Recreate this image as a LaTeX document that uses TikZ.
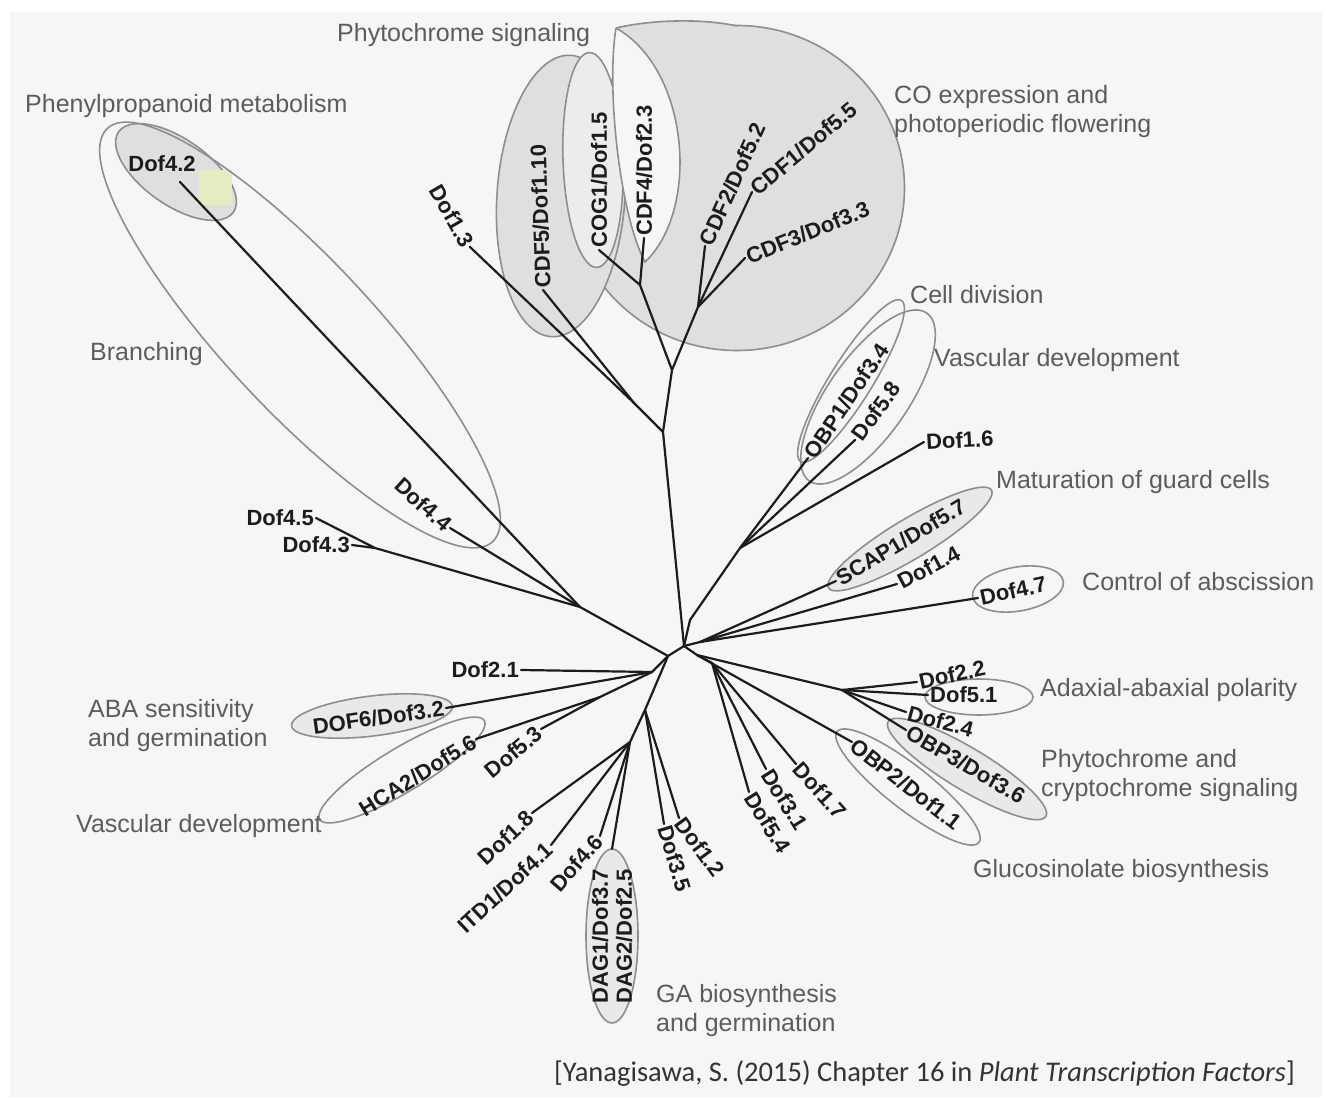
\documentclass[tikz,border=0pt]{standalone}
\usepackage{fontspec}
\setmainfont{Liberation Sans}
\newfontfamily\citefont{Carlito}
\usetikzlibrary{shapes.geometric}
\definecolor{bggray}{HTML}{F6F6F6}
\definecolor{ringgray}{HTML}{8E8E8E}
\definecolor{cladefill}{HTML}{DFDFDF}
\definecolor{labgray}{HTML}{5C5C5C}
\definecolor{treeblack}{HTML}{1C1C1C}
\definecolor{patchyellow}{HTML}{E6EBC2}
\tikzset{
  gene/.style={font=\fontsize{22}{24}\selectfont\bfseries, text=treeblack, inner sep=2pt},
  func/.style={font=\fontsize{25}{29}\selectfont, text=labgray, align=left, inner sep=0pt},
  source/.style={font=\citefont\fontsize{28.5}{31}\selectfont, text=black!80, inner sep=0pt},
  br/.style={draw=treeblack, line width=2.2pt, line cap=round, line join=round},
  ring/.style={ellipse, draw=ringgray, line width=1.6pt, inner sep=0pt},
  ringline/.style={draw=ringgray, line width=1.6pt},
}
\begin{document}
\begin{tikzpicture}[x=1pt, y=-1pt]
\useasboundingbox (0,0) rectangle (1327,1099);
\fill[white] (0,0) rectangle (1327,1099);
\fill[bggray] (10,12) rectangle (1322,1097);

% functional groups
\node[ring, fill=cladefill, minimum width=335, minimum height=325] (rco) at (737,188) {};
\fill[cladefill] (616,28) .. controls (650,20) and (700,18) .. (737,26) -- (690,120) -- cycle;
\draw[ringline] (616,28) .. controls (650,20) and (700,18) .. (737,26);
\node[ring, fill=cladefill, minimum width=128, minimum height=282, rotate=-4] (rphy) at (561,196) {};
\node[ring, fill=cladefill!60, minimum width=60, minimum height=215, rotate=2] (rcog) at (593,160) {};
\draw[ringline, fill=bggray] (616,28) .. controls (690,70) and (700,210) .. (645,262) .. controls (620,215) and (606,90) .. (616,28);
\node[ring, fill=cladefill, minimum width=140, minimum height=66, rotate=-35] (rphen) at (176,172) {};
\fill[patchyellow] (199,170) rectangle (232,205);
\node[ring, minimum width=565, minimum height=150, rotate=-47] (rbranch) at (300,335) {};
\node[ring, minimum width=190, minimum height=42, rotate=58] (rcell) at (851,381) {};
\node[ring, minimum width=205, minimum height=80, rotate=55] (rvasc) at (868,397) {};
\node[ring, fill=cladefill!70, minimum width=190, minimum height=40, rotate=31] (rguard) at (910,539) {};
\node[ring, minimum width=92, minimum height=44, rotate=10] (rabsc) at (1018,589) {};
\node[ring, minimum width=108, minimum height=36] (rpolar) at (979,697) {};
\node[ring, fill=cladefill!70, minimum width=184, minimum height=42, rotate=-31] (rphycry) at (967,769) {};
\node[ring, minimum width=180, minimum height=44, rotate=-38] (rgluc) at (908,787) {};
\node[ring, fill=cladefill!70, minimum width=162, minimum height=40, rotate=7] (raba) at (372,716) {};
\node[ring, minimum width=192, minimum height=44, rotate=31] (rvascl) at (402,770) {};
\node[ring, fill=cladefill!70, minimum width=52, minimum height=174] (rga) at (612,936) {};

% inner branch points
\coordinate (r0) at (684,646);
\coordinate (r1) at (668,656);
\coordinate (a) at (663,432);
\coordinate (b) at (672,370);
\coordinate (d) at (634,403);
\coordinate (e) at (640,285);
\coordinate (f) at (698,307);
\coordinate (i) at (690,620);
\coordinate (i2) at (740,548);
\coordinate (j) at (700,642);
\coordinate (k) at (697,655);
\coordinate (k2) at (842,690);
\coordinate (l) at (712,663);
\coordinate (h) at (580,607);
\coordinate (g) at (375,548);
\coordinate (m) at (652,672);
\coordinate (m2) at (600,697);
\coordinate (n) at (645,710);
\coordinate (n2) at (630,742);

% leaf tips
\coordinate (t42) at (180,182);
\coordinate (t44) at (450,528);
\coordinate (t45) at (316,518);
\coordinate (t43) at (352,545);
\coordinate (t13) at (470,247);
\coordinate (tcdf5) at (543,290);
\coordinate (tcog1) at (599,250);
\coordinate (tcdf4) at (644,238);
\coordinate (tcdf2) at (705,246);
\coordinate (tcdf1) at (752,192);
\coordinate (tcdf3) at (745,258);
\coordinate (tobp1) at (808,458);
\coordinate (t58) at (855,440);
\coordinate (t16) at (924,442);
\coordinate (tscap1) at (836,581);
\coordinate (t14) at (897,584);
\coordinate (t47) at (978,598);
\coordinate (t22) at (917,682);
\coordinate (t51) at (928,695);
\coordinate (t24) at (906,712);
\coordinate (tobp3) at (906,730);
\coordinate (tobp2) at (852,742);
\coordinate (t17) at (796,764);
\coordinate (t31) at (766,769);
\coordinate (t54) at (749,792);
\coordinate (t12) at (679,818);
\coordinate (t35) at (664,824);
\coordinate (tdag) at (612,849);
\coordinate (t46) at (600,836);
\coordinate (titd1) at (551,845);
\coordinate (t18) at (532,813);
\coordinate (t53) at (541,729);
\coordinate (thca2) at (476,739);
\coordinate (tdof6) at (446,708);
\coordinate (t21) at (521,670);

% tree
\draw[br] (r0) -- (a) -- (b) -- (f);
\draw[br] (a) -- (d) -- (t13);
\draw[br] (d) -- (tcdf5);
\draw[br] (b) -- (e);
\foreach \t in {tcog1,tcdf4} \draw[br] (e) -- (\t);
\foreach \t in {tcdf2,tcdf1,tcdf3} \draw[br] (f) -- (\t);
\draw[br] (r0) -- (i) -- (i2);
\foreach \t in {tobp1,t58,t16} \draw[br] (i2) -- (\t);
\draw[br] (r0) -- (j);
\foreach \t in {tscap1,t14,t47} \draw[br] (j) -- (\t);
\draw[br] (r0) -- (k) -- (k2);
\foreach \t in {t22,t51,t24,tobp3} \draw[br] (k2) -- (\t);
\draw[br] (k) -- (tobp2);
\draw[br] (k) -- (l);
\foreach \t in {t17,t31,t54} \draw[br] (l) -- (\t);
\draw[br] (r0) -- (r1);
\draw[br] (r1) -- (h) -- (g) -- (t43);
\draw[br] (g) -- (t45);
\foreach \t in {t42,t44} \draw[br] (h) -- (\t);
\draw[br] (r1) -- (m) -- (m2);
\foreach \t in {t21,tdof6} \draw[br] (m) -- (\t);
\foreach \t in {thca2,t53} \draw[br] (m2) -- (\t);
\draw[br] (r1) -- (n) -- (n2);
\foreach \t in {t35,t12} \draw[br] (n) -- (\t);
\foreach \t in {t18,titd1,t46,tdag} \draw[br] (n2) -- (\t);

% gene names
\node[gene] (dof42) at (162,164) {Dof4.2};
\node[gene, rotate=-42, anchor=east] (dof44) at (t44) {Dof4.4};
\node[gene, anchor=east] (dof45) at (t45) {Dof4.5};
\node[gene, anchor=east] (dof43) at (t43) {Dof4.3};
\node[gene, rotate=-60, anchor=east] (dof13) at (t13) {Dof1.3};
\node[gene, rotate=92, anchor=west] (cdf5) at (tcdf5) {CDF5/Dof1.10};
\node[gene, rotate=90, anchor=west] (cog1) at (tcog1) {COG1/Dof1.5};
\node[gene, rotate=90, anchor=west] (cdf4) at (tcdf4) {CDF4/Dof2.3};
\node[gene, rotate=66, anchor=west] (cdf2) at (tcdf2) {CDF2/Dof5.2};
\node[gene, rotate=40, anchor=west] (cdf1) at (tcdf1) {CDF1/Dof5.5};
\node[gene, rotate=22, anchor=west] (cdf3) at (tcdf3) {CDF3/Dof3.3};
\node[gene, rotate=56, anchor=west] (obp1) at (tobp1) {OBP1/Dof3.4};
\node[gene, rotate=54, anchor=west] (dof58) at (t58) {Dof5.8};
\node[gene, rotate=3, anchor=west] (dof16) at (t16) {Dof1.6};
\node[gene, rotate=31, anchor=west] (scap1) at (tscap1) {SCAP1/Dof5.7};
\node[gene, rotate=28, anchor=west] (dof14) at (t14) {Dof1.4};
\node[gene, rotate=12, anchor=west] (dof47) at (t47) {Dof4.7};
\node[gene, rotate=12, anchor=west] (dof22) at (t22) {Dof2.2};
\node[gene, anchor=west] (dof51) at (t51) {Dof5.1};
\node[gene, rotate=-15, anchor=west] (dof24) at (t24) {Dof2.4};
\node[gene, rotate=-30, anchor=west] (obp3) at (tobp3) {OBP3/Dof3.6};
\node[gene, rotate=-38, anchor=west] (obp2) at (tobp2) {OBP2/Dof1.1};
\node[gene, rotate=-48, anchor=west] (dof17) at (t17) {Dof1.7};
\node[gene, rotate=-58, anchor=west] (dof31) at (t31) {Dof3.1};
\node[gene, rotate=-58, anchor=west] (dof54) at (t54) {Dof5.4};
\node[gene, rotate=-54, anchor=west] (dof12) at (t12) {Dof1.2};
\node[gene, rotate=-73, anchor=west] (dof35) at (t35) {Dof3.5};
\node[gene, rotate=90, align=center] (dag) at (612,936) {DAG1/Dof3.7\\DAG2/Dof2.5};
\node[gene, rotate=49, anchor=east] (dof46) at (t46) {Dof4.6};
\node[gene, rotate=43, anchor=east] (itd1) at (titd1) {ITD1/Dof4.1};
\node[gene, rotate=43, anchor=east] (dof18) at (t18) {Dof1.8};
\node[gene, rotate=40, anchor=east] (dof53) at (t53) {Dof5.3};
\node[gene, rotate=32, anchor=east] (hca2) at (thca2) {HCA2/Dof5.6};
\node[gene, rotate=8, anchor=east] (dof6) at (tdof6) {DOF6/Dof3.2};
\node[gene, anchor=east] (dof21) at (t21) {Dof2.1};

% functions
\node[func, anchor=west] (lphy) at (337,35) {Phytochrome signaling};
\node[func, anchor=west] (lphen) at (25,106) {Phenylpropanoid metabolism};
\node[func, anchor=west] (lco) at (894,112) {CO expression and\\photoperiodic flowering};
\node[func, anchor=west] (lcell) at (910,295) {Cell division};
\node[func, anchor=west] (lvasc) at (934,360) {Vascular development};
\node[func, anchor=west] (lbranch) at (90,354) {Branching};
\node[func, anchor=west] (lguard) at (996,482) {Maturation of guard cells};
\node[func, anchor=west] (labsc) at (1082,582) {Control of abscission};
\node[func, anchor=west] (lpolar) at (1040,690) {Adaxial-abaxial polarity};
\node[func, anchor=west] (lphycry) at (1041,776) {Phytochrome and\\cryptochrome signaling};
\node[func, anchor=west] (lgluc) at (973,871) {Glucosinolate biosynthesis};
\node[func, anchor=west] (laba) at (88,726) {ABA sensitivity\\and germination};
\node[func, anchor=west] (lvascl) at (76,826) {Vascular development};
\node[func, anchor=west] (lga) at (656,1011) {GA biosynthesis\\and germination};
\node[source, anchor=east] (src) at (1295,1074) {[Yanagisawa, S. (2015) Chapter 16 in \textit{Plant Transcription Factors}]};
\end{tikzpicture}
\end{document}
